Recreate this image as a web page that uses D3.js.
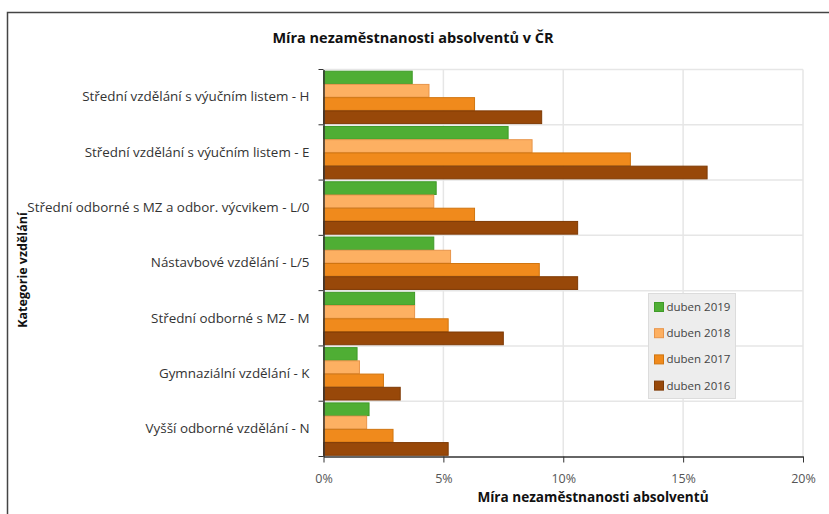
<!DOCTYPE html>
<html>
<head>
<meta charset="utf-8">
<script src="https://cdn.jsdelivr.net/npm/d3@7"></script>
<style>
  body { margin: 0; background: #fff; }
  text { font-family: "Open Sans", sans-serif; }
</style>
</head>
<body>
<div id="chart"></div>
<script>
// categories (top to bottom) and series, values in %
var categories = [
  "Střední vzdělání s výučním listem - H",
  "Střední vzdělání s výučním listem - E",
  "Střední odborné s MZ a odbor. výcvikem - L/0",
  "Nástavbové vzdělání - L/5",
  "Střední odborné s MZ - M",
  "Gymnaziální vzdělání - K",
  "Vyšší odborné vzdělání - N"
];
var seriesNames = ["duben 2019", "duben 2018", "duben 2017", "duben 2016"];
var val2019 = [3.7, 7.7, 4.7, 4.6, 3.8, 1.4, 1.9];
var val2018 = [4.4, 8.7, 4.6, 5.3, 3.8, 1.5, 1.8];
var val2017 = [6.3, 12.8, 6.3, 9.0, 5.2, 2.5, 2.9];
var val2016 = [9.1, 16.0, 10.6, 10.6, 7.5, 3.2, 5.2];
var xTicks = [0, 5, 10, 15, 20];
var colors = ["#4fae34", "#fdb062", "#f08a1c", "#984809"];
var strokes = ["#3f9a28", "#e8954a", "#d07510", "#7e3a05"];

var seriesValues = [val2019, val2018, val2017, val2016];

var W = 829, H = 514;
var margin = {top: 69.5, right: 26, bottom: 57.5, left: 323.5};
var width = W - margin.left - margin.right,
    height = H - margin.top - margin.bottom;

var svg = d3.select("#chart").append("svg")
    .attr("width", W)
    .attr("height", H);

// outer frame (cut off at right and bottom)
svg.append("path")
    .attr("d", "M7.5,520 L7.5,12.5 L835,12.5")
    .attr("fill", "none")
    .attr("stroke", "#444")
    .attr("stroke-width", 1.5);

svg.append("text")
    .attr("x", 413)
    .attr("y", 43)
    .attr("text-anchor", "middle")
    .attr("font-size", 14.5)
    .attr("font-weight", "bold")
    .attr("fill", "#111")
    .text("Míra nezaměstnanosti absolventů v ČR");

var g = svg.append("g")
    .attr("transform", "translate(" + margin.left + "," + margin.top + ")");

var x = d3.scaleLinear().domain([0, 20]).range([0, width]);
var y = d3.scaleBand().domain(categories).range([0, height]).padding(0);
var y1 = d3.scaleBand().domain(seriesNames).range([0, y.bandwidth()]).paddingOuter(0.09).paddingInner(0);

// grid
g.append("g").selectAll("line")
    .data(xTicks.slice(1))
    .enter().append("line")
      .attr("x1", function(d) { return x(d); })
      .attr("x2", function(d) { return x(d); })
      .attr("y1", 0).attr("y2", height)
      .attr("stroke", "#e6e6e6").attr("stroke-width", 1.5);
var bounds = categories.map(function(c) { return y(c); });
g.append("g").selectAll("line")
    .data(bounds)
    .enter().append("line")
      .attr("x1", 0).attr("x2", width)
      .attr("y1", function(d) { return d; })
      .attr("y2", function(d) { return d; })
      .attr("stroke", "#e6e6e6").attr("stroke-width", 1.5);

// bars
var rows = categories.map(function(c, i) {
  return seriesNames.map(function(s, j) { return {cat: c, key: s, j: j, value: seriesValues[j][i]}; });
});
g.append("g").selectAll("g")
    .data(rows)
    .enter().append("g")
      .attr("transform", function(d) { return "translate(0," + y(d[0].cat) + ")"; })
    .selectAll("rect")
    .data(function(d) { return d; })
    .enter().append("rect")
      .attr("x", x(0))
      .attr("y", function(d) { return y1(d.key) + 0.5; })
      .attr("width", function(d) { return x(d.value) - x(0); })
      .attr("height", y1.bandwidth() - 0.5)
      .attr("fill", function(d) { return colors[d.j]; })
      .attr("stroke", function(d) { return strokes[d.j]; })
      .attr("stroke-width", 1);

// x axis
var xAxis = g.append("g")
    .attr("transform", "translate(0," + height + ")")
    .call(d3.axisBottom(x).tickValues(xTicks).tickSize(6).tickSizeOuter(0)
      .tickFormat(function(d) { return d + "%"; }));
xAxis.select(".domain").attr("stroke", "#333").attr("stroke-width", 1.5);
xAxis.selectAll(".tick line").attr("stroke", "#333");
xAxis.selectAll("text").attr("font-size", 12.5).attr("fill", "#555")
    .attr("font-family", "Open Sans, sans-serif").attr("dy", "1.4em");

// y axis: labels centred in bands, ticks at band edges
var yAxis = g.append("g")
    .call(d3.axisLeft(y).tickSize(0).tickPadding(14));
yAxis.select(".domain").attr("stroke", "#333").attr("stroke-width", 1.5);
yAxis.selectAll("text").attr("font-size", 13.4).attr("fill", "#333")
    .attr("font-family", "Open Sans, sans-serif");
g.append("g").selectAll("line")
    .data(bounds.concat([height]))
    .enter().append("line")
      .attr("x1", -5).attr("x2", 0)
      .attr("y1", function(d) { return d; })
      .attr("y2", function(d) { return d; })
      .attr("stroke", "#333");

// axis titles
svg.append("text")
    .attr("x", 593)
    .attr("y", 502)
    .attr("text-anchor", "middle")
    .attr("font-size", 13.6)
    .attr("font-weight", "bold")
    .attr("fill", "#111")
    .text("Míra nezaměstnanosti absolventů");
svg.append("text")
    .attr("transform", "translate(27,270) rotate(-90)")
    .attr("text-anchor", "middle")
    .attr("font-size", 12.5)
    .attr("font-weight", "bold")
    .attr("fill", "#111")
    .text("Kategorie vzdělání");

// legend
var legend = svg.append("g").attr("transform", "translate(648.5,293.5)");
legend.append("rect")
    .attr("width", 87).attr("height", 105)
    .attr("fill", "#ededed").attr("stroke", "#dcdcdc");
var item = legend.selectAll("g.item")
    .data(seriesNames)
    .enter().append("g")
      .attr("class", "item")
      .attr("transform", function(d, i) { return "translate(6," + (13.5 + i * 26.2) + ")"; });
item.append("rect")
    .attr("y", -4.5).attr("width", 9).attr("height", 9)
    .attr("fill", function(d, i) { return colors[i]; })
    .attr("stroke", function(d, i) { return strokes[i]; });
item.append("text")
    .attr("x", 12).attr("dy", "0.35em")
    .attr("font-size", 11.5).attr("fill", "#444")
    .text(function(d) { return d; });
</script>
</body>
</html>
